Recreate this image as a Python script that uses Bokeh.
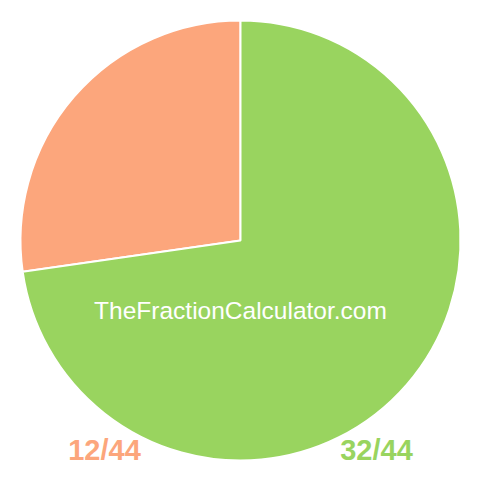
from bokeh.plotting import figure
from bokeh.models import Range1d, ColumnDataSource
from bokeh.core.properties import value
from bokeh.embed import file_html
from bokeh.resources import INLINE
import math

# Data
labels = ["12/44", "32/44"]
numerators = [12, 32]
denominator = 44
colors = ["#FCA67C", "#99D45F"]
watermark = "TheFractionCalculator.com"

W = H = 480
cx, cy, R = 240, 240, 220

# angles: orange from top going anticlockwise, green the rest
starts, ends = [], []
a = math.pi / 2
for n in numerators:
    span = 2 * math.pi * n / denominator
    starts.append(a)
    ends.append(a + span)
    a += span

src = ColumnDataSource(dict(start=starts, end=ends, color=colors))

p = figure(width=W, height=H, output_backend="svg", toolbar_location=None,
           x_range=Range1d(0, W), y_range=Range1d(0, H), min_border=0)
p.axis.visible = False
p.grid.visible = False
p.outline_line_color = None
p.background_fill_color = "white"
p.border_fill_color = "white"

p.wedge(x=cx, y=cy, radius=R, start_angle="start", end_angle="end",
        fill_color="color", line_color="white", line_width=2, source=src)

p.text(x=[cx], y=[H - 310], text=[watermark], text_color="white",
       text_font=value("Liberation Sans"), text_font_size="24.5px",
       text_align="center", text_baseline="middle")

p.text(x=[104, 376], y=[H - 449, H - 449], text=labels, text_color=colors,
       text_font=value("Liberation Sans"), text_font_size="29px",
       text_font_style="bold", text_align="center", text_baseline="middle")

open("out.html", "w").write(file_html(p, INLINE))
